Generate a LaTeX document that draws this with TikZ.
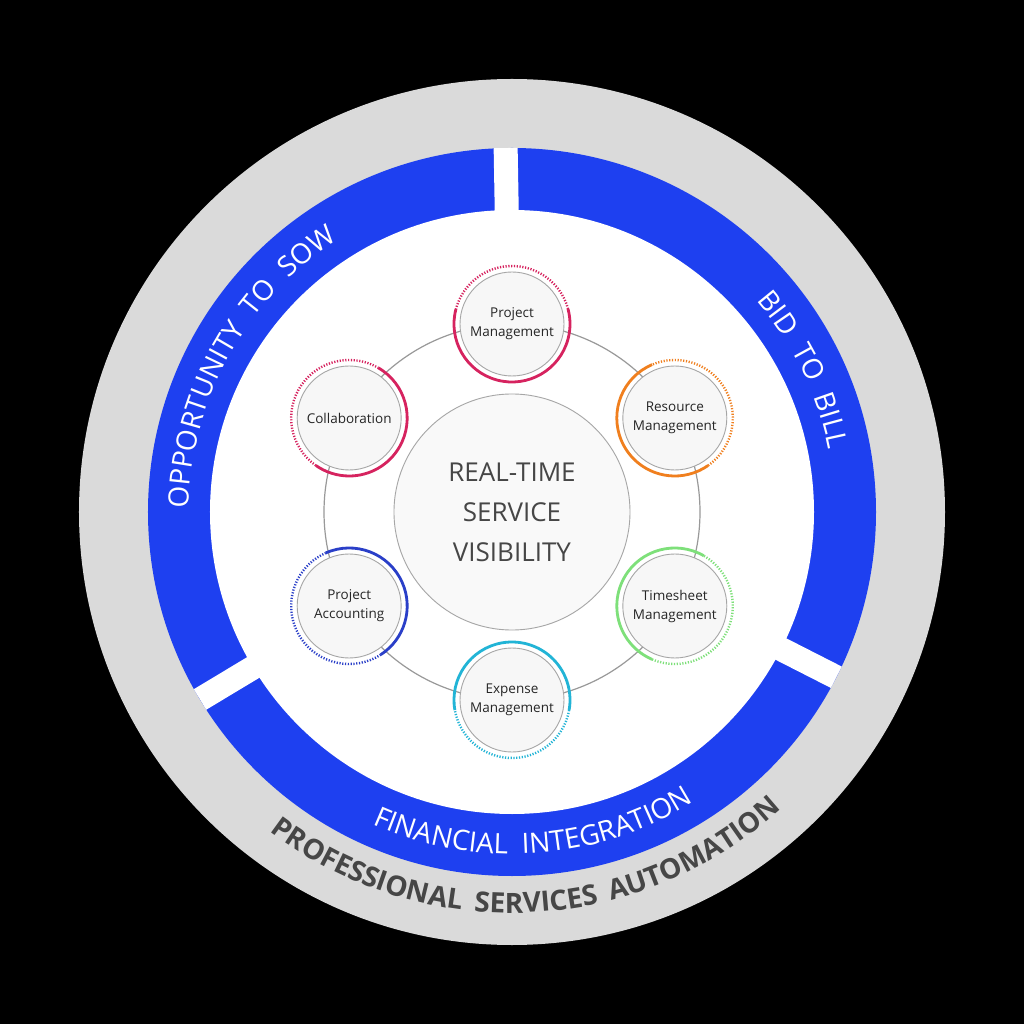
\documentclass[tikz,border=0pt]{standalone}
\usepackage{fontspec}
\setmainfont{Open Sans}
\usetikzlibrary{decorations.text,calc}
\definecolor{bandblue}{RGB}{30,64,240}
\definecolor{ringgrey}{RGB}{218,218,218}
\definecolor{pinkc}{RGB}{214,35,95}
\definecolor{orangec}{RGB}{240,127,30}
\definecolor{greenc}{RGB}{126,224,122}
\definecolor{tealc}{RGB}{34,180,214}
\definecolor{dblue}{RGB}{42,63,200}
\definecolor{txtgrey}{RGB}{70,70,70}
\newfontfamily\bandff[LetterSpace=25]{Open Sans}
\newfontfamily\outff[LetterSpace=18]{Open Sans Bold}
\newcommand{\bandfont}{\bandff\fontsize{28}{28}\selectfont}
\newcommand{\outfont}{\outff\fontsize{28}{28}\selectfont}
\tikzset{
  mod/.style={circle,draw=gray!70,line width=0.9pt,fill=gray!6,minimum size=104pt,inner sep=0pt,align=center,font=\fontsize{13.5}{19}\selectfont,text=black!85},
  solidarc/.style={line width=2.8pt},
  dotarc/.style={line width=2.4pt,dash pattern=on 1.2pt off 1.6pt},
}
\begin{document}
\begin{tikzpicture}[x=1pt,y=1pt]
\useasboundingbox (-512,-512) rectangle (512,512);
\fill[black] (-512,-512) rectangle (512,512);
\fill[ringgrey] (0,0) circle[radius=433pt];
\fill[bandblue] (0,0) circle[radius=364pt];
\foreach \a in {91,-27,211} \draw[white,line width=24pt] (\a:290) -- (\a:364);
\fill[white] (0,0) circle[radius=302pt];
% texts
\path[decorate,decoration={text along path,text align=center,text color=txtgrey,
  text={|\outfont|PROFESSIONAL SERVICES AUTOMATION}}] (-175:401) arc[start angle=-175,end angle=0,radius=401pt];
\path[decorate,decoration={text along path,text align=center,text color=white,
  text={|\bandfont|FINANCIAL INTEGRATION}}] (-160:342) arc[start angle=-160,end angle=-12,radius=342pt];
\path[decorate,decoration={text along path,text align=center,text color=white,
  text={|\bandfont|OPPORTUNITY TO SOW}}] (213:323) arc[start angle=213,end angle=89,radius=323pt];
\path[decorate,decoration={text along path,text align=center,text color=white,
  text={|\bandfont|BID TO BILL}}] (85:323) arc[start angle=85,end angle=-33,radius=323pt];
% orbit
\draw[gray!80,line width=1.2pt] (0,0) circle[radius=188pt];
\node[circle,draw=gray!70,line width=0.9pt,fill=gray!5,minimum size=236pt,align=center,
  font=\fontsize{26}{40}\selectfont,text=txtgrey] (core) at (0,0) {REAL-TIME\\SERVICE\\VISIBILITY};
\node[mod] (pm) at (90:188) {Project\\Management};
\node[mod] (rm) at (30:188) {Resource\\Management};
\node[mod] (tm) at (-30:188) {Timesheet\\Management};
\node[mod] (em) at (-90:188) {Expense\\Management};
\node[mod] (pa) at (210:188) {Project\\Accounting};
\node[mod] (co) at (150:188) {Collaboration};
% arcs
\newcommand{\ringarc}[5]{%
 \draw[solidarc,#2] ([shift=(#3:58)]#1.center) arc[start angle=#3,end angle=#4,radius=58pt];
 \draw[dotarc,#2] ([shift=(#4:58)]#1.center) arc[start angle=#4,end angle=#5,radius=58pt];}
\ringarc{pm}{pinkc}{165}{375}{525}
\ringarc{co}{pinkc}{60}{-125}{-300}
\ringarc{rm}{orangec}{113}{305}{473}
\ringarc{tm}{greenc}{60}{247}{420}
\ringarc{em}{tealc}{190}{-10}{-170}
\ringarc{pa}{dblue}{114}{-57}{-246}
\end{tikzpicture}
\end{document}
